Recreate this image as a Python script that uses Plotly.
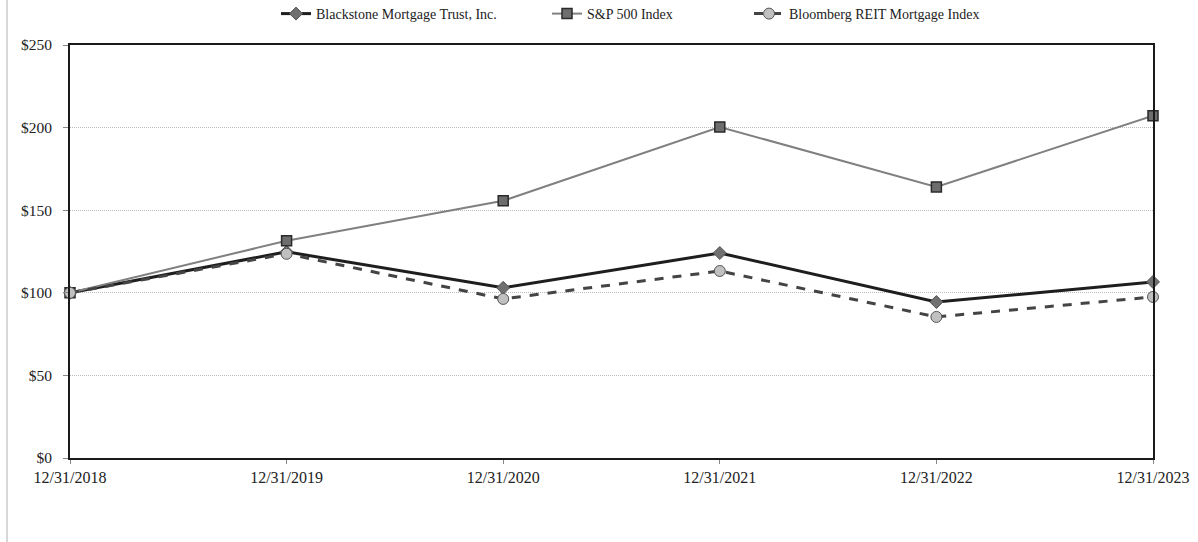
import plotly.graph_objects as go

dates = ["12/31/2018", "12/31/2019", "12/31/2020", "12/31/2021", "12/31/2022", "12/31/2023"]
bxmt = [100, 124.8, 103.0, 124.1, 94.4, 106.6]
sp500 = [100, 131.5, 155.7, 200.4, 164.1, 207.2]
bbg = [100, 123.6, 96.3, 113.2, 85.4, 97.5]
yticks = [0, 50, 100, 150, 200, 250]

xs = list(range(len(dates)))
font = "Liberation Serif, Times New Roman, serif"

fig = go.Figure()
fig.add_trace(go.Scatter(
    x=xs, y=bxmt, name="Blackstone Mortgage Trust, Inc.", mode="lines+markers",
    line=dict(color="#1e1e1e", width=3),
    marker=dict(symbol="diamond", size=10, color="#707070", line=dict(color="#555555", width=1)),
    cliponaxis=False, legend="legend"))
fig.add_trace(go.Scatter(
    x=xs, y=sp500, name="S&P 500 Index", mode="lines+markers",
    line=dict(color="#808080", width=2),
    marker=dict(symbol="square", size=10, color="#6e6e6e", line=dict(color="#2a2a2a", width=1.5)),
    cliponaxis=False, legend="legend2"))
fig.add_trace(go.Scatter(
    x=xs, y=bbg, name="Bloomberg REIT Mortgage Index", mode="lines+markers",
    line=dict(color="#444444", width=3, dash="dash"),
    marker=dict(symbol="circle", size=11, color="#c0c0c0", line=dict(color="#555555", width=1)),
    cliponaxis=False, legend="legend3"))

fig.add_shape(type="line", xref="paper", yref="paper",
              x0=(7 - 70) / 1083, x1=(7 - 70) / 1083, y0=-84 / 413, y1=1 + 45 / 413,
              line=dict(color="#b0b0b0", width=1))

def leg(px):
    return dict(orientation="h", x=(px - 70) / 1083, xanchor="left", y=1 + 31 / 413, yanchor="middle",
                font=dict(size=14, family=font, color="#222222"), bgcolor="rgba(0,0,0,0)",
                borderwidth=0)

fig.update_layout(
    width=1198, height=542,
    margin=dict(l=70, r=45, t=45, b=84, autoexpand=False),
    paper_bgcolor="white", plot_bgcolor="white",
    font=dict(family=font, size=15, color="#222222"),
    showlegend=True,
    legend=leg(276), legend2=leg(547), legend3=leg(749),
    xaxis=dict(
        range=[0, 5], tickmode="array", tickvals=xs, ticktext=dates,
        showgrid=False, zeroline=False,
        showline=True, mirror=True, linecolor="#1a1a1a", linewidth=2,
        ticks="outside", ticklen=4, tickcolor="#888888", tickwidth=1,
        tickfont=dict(family=font, size=16, color="#222222")),
    yaxis=dict(
        range=[0, 250], tickmode="array", tickvals=yticks,
        ticktext=["$" + str(v) for v in yticks],
        showgrid=True, gridcolor="#bbbbbb", griddash="1px,1px", gridwidth=1,
        zeroline=False,
        showline=True, mirror=True, linecolor="#1a1a1a", linewidth=2,
        ticks="outside", ticklen=5, tickcolor="#888888", tickwidth=1,
        ticklabelstandoff=8,
        tickfont=dict(family=font, size=15.5, color="#222222")),
)

fig.write_html("out.html")
